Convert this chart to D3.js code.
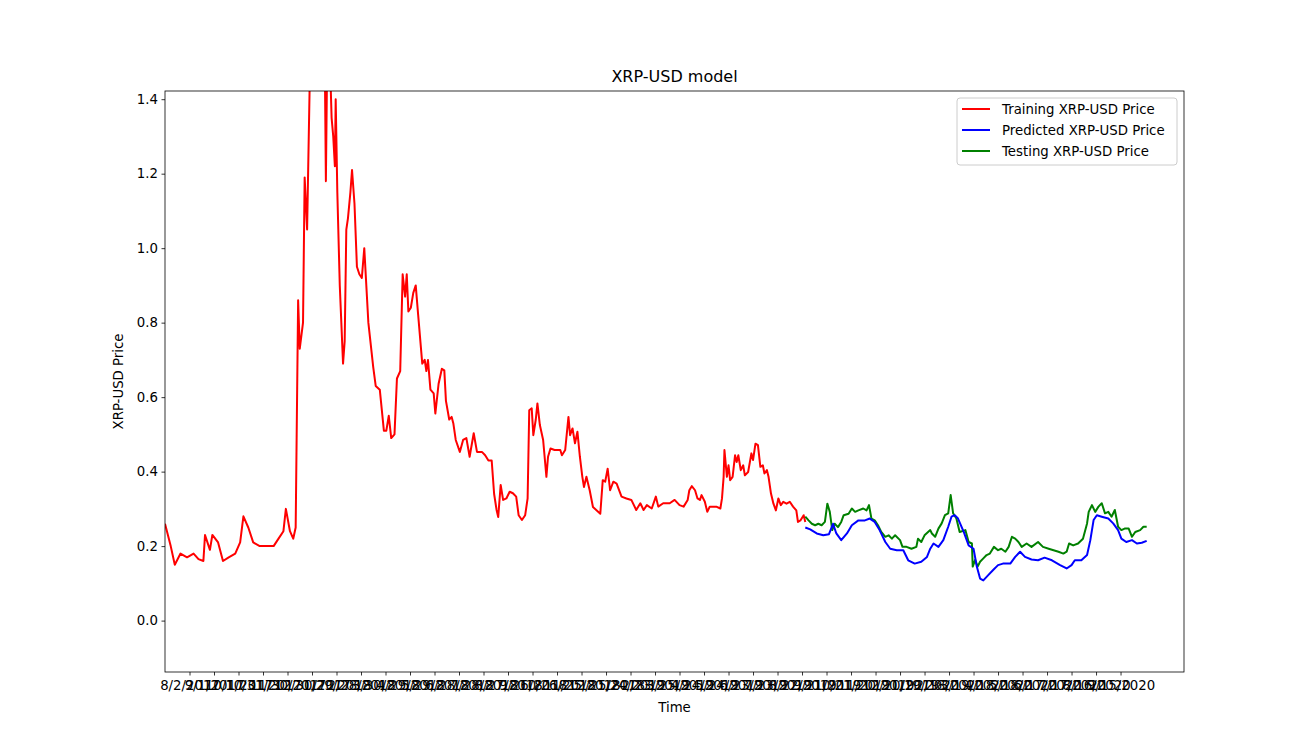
<!DOCTYPE html>
<html>
<head>
    <title>XRP-USD model</title>
    <script src="https://d3js.org/d3.v7.min.js"></script>
    <style>
        body { margin: 0; background: #fff; }
        text { font-family: "DejaVu Sans", sans-serif; }
    </style>
</head>
<body>
    <svg id="chart"></svg>

    <script>
        // x values are days since 8/2/2017
        const trainDays = [-30,-23,-18,-11,-3,5,11,17,19,25,28,35,41,48,56,62,66,72,78,86,94,103,109,115,118,123,127,130,133,135,139,141,144,147,150,152,156,160,164,167,169,172,174,176,178,179,181,184,188,190,192,194,197,199,202,205,208,211,214,219,225,228,233,238,241,244,247,251,254,258,261,264,266,268,271,274,277,280,
            285,288,290,292,295,299,301,305,309,312,314,318,321,323,326,331,335,339,343,348,352,358,362,366,370,373,376,378,381,384,388,392,396,400,403,407,411,414,416,419,421,424,426,429,433,437,439,442,447,454,456,460,464,466,469,472,475,478,481,483,486,490,494,503,506,509,512,515,519,523,529,535,541,547,552,556,560,566,571,574,580,588,594,600,
            605,610,612,615,619,622,625,627,631,634,637,641,645,650,652,654,655,658,660,662,665,668,670,672,675,678,680,684,688,690,693,696,699,702,704,707,709,712,715,718,721,724,727,731,735,739,743,745,748,752,754];
        const trainValues = [0.26,0.20,0.15,0.18,0.17,0.18,0.165,0.16,0.23,0.19,0.23,0.21,0.16,0.17,0.18,0.21,0.28,0.25,0.21,0.20,0.20,0.20,0.22,0.24,0.30,0.24,0.22,0.25,0.86,0.73,0.80,1.19,1.05,1.42,2.2,2.8,3.3,2.5,1.9,1.18,1.6,1.5,1.35,1.30,1.22,1.40,1.15,0.90,0.69,0.75,1.05,1.08,1.15,1.21,1.12,0.95,0.93,0.92,1.0,0.80,0.68,0.63,0.62,0.51,0.51,0.55,0.49,0.50,0.65,0.67,0.93,0.87,0.93,0.83,0.84,0.88,0.90,0.82,
            0.69,0.70,0.67,0.70,0.62,0.61,0.556,0.636,0.676,0.672,0.59,0.54,0.547,0.53,0.485,0.453,0.485,0.49,0.44,0.503,0.453,0.453,0.444,0.43,0.43,0.34,0.297,0.278,0.364,0.324,0.328,0.346,0.342,0.333,0.283,0.270,0.283,0.328,0.565,0.57,0.498,0.54,0.583,0.525,0.485,0.386,0.44,0.462,0.458,0.458,0.444,0.458,0.547,0.498,0.516,0.476,0.507,0.44,0.386,0.359,0.386,0.35,0.305,0.287,0.377,0.373,0.408,0.35,0.373,0.368,0.333,0.328,0.324,0.297,0.315,0.297,0.31,0.301,0.333,0.306,0.315,0.315,0.324,0.31,
            0.306,0.324,0.35,0.361,0.35,0.328,0.324,0.337,0.319,0.292,0.306,0.306,0.306,0.301,0.328,0.386,0.458,0.386,0.417,0.377,0.386,0.444,0.426,0.444,0.404,0.417,0.39,0.399,0.449,0.431,0.475,0.471,0.413,0.417,0.395,0.404,0.386,0.341,0.314,0.296,0.328,0.31,0.319,0.314,0.319,0.306,0.296,0.265,0.269,0.283,0.265];

        const testDays = [754,758,762,766,770,774,778,781,784,787,790,794,798,801,807,811,815,819,825,829,832,835,839,843,847,852,856,860,864,870,873,878,884,890,892,896,900,907,
            909,913,917,921,925,929,932,935,939,943,950,954,958,959,962,965,968,972,976,980,985,990,994,999,1003,1007,1011,1015,1019,1025,1031,1039,1045,1052,1058,1064,1070,1074,1077,1082,1088,1094,1099,1101,1105,1109,1113,1117,1121,1125,1129,1133,1137,1141,1145,1150,1154,1158,1164,1168,1172];
        const testValues = [0.279,0.269,0.26,0.256,0.26,0.256,0.265,0.314,0.292,0.243,0.26,0.251,0.265,0.283,0.287,0.301,0.292,0.296,0.301,0.296,0.31,0.274,0.269,0.256,0.238,0.225,0.229,0.22,0.229,0.216,0.198,0.198,0.193,0.198,0.22,0.211,0.229,0.243,
            0.234,0.225,0.247,0.261,0.283,0.288,0.337,0.288,0.274,0.238,0.243,0.211,0.207,0.145,0.163,0.145,0.158,0.167,0.176,0.18,0.198,0.189,0.193,0.185,0.198,0.225,0.22,0.211,0.198,0.207,0.198,0.211,0.198,0.193,0.189,0.185,0.18,0.185,0.207,0.202,0.207,0.22,0.261,0.292,0.31,0.292,0.306,0.315,0.288,0.292,0.279,0.297,0.252,0.243,0.247,0.247,0.225,0.238,0.243,0.252,0.252];

        const predDays = [754,760,768,776,783,788,792,798,805,811,819,827,833,839,845,852,858,866,874,880,888,896,903,907,
            911,917,923,929,933,937,941,948,954,960,964,968,972,978,984,990,996,1005,1011,1017,1023,1031,1039,1047,1056,1066,1074,1080,1084,1092,1099,1103,1107,1111,1117,1125,1131,1137,1141,1147,1154,1160,1166,1172];
        const predValues = [0.25,0.245,0.234,0.229,0.232,0.26,0.234,0.216,0.234,0.256,0.269,0.269,0.274,0.265,0.243,0.211,0.193,0.189,0.189,0.162,0.153,0.158,0.171,0.193,
            0.207,0.198,0.216,0.252,0.279,0.283,0.274,0.238,0.202,0.193,0.145,0.113,0.108,0.122,0.136,0.149,0.153,0.153,0.171,0.185,0.171,0.164,0.162,0.169,0.162,0.149,0.14,0.149,0.162,0.162,0.176,0.216,0.27,0.283,0.279,0.274,0.261,0.243,0.22,0.211,0.216,0.207,0.209,0.214];

        const tickDays = d3.range(0, 1141, 30);
        const tickLabels = ["8/2/2017","9/1/2017","10/1/2017","10/31/2017","11/30/2017","12/30/2017","1/29/2018","2/28/2018","3/30/2018","4/29/2018","5/29/2018","6/28/2018","7/28/2018","8/27/2018","9/26/2018","10/26/2018","11/25/2018","12/25/2018","1/24/2019","2/23/2019","3/25/2019","4/24/2019","5/24/2019","6/23/2019","7/23/2019","8/22/2019","9/21/2019","10/21/2019","11/20/2019","12/20/2019","1/19/2020","2/18/2020","3/19/2020","4/18/2020","5/18/2020","6/17/2020","7/17/2020","8/16/2020","9/15/2020","10/15/2020"];

        const series = [
            { name: "Training XRP-USD Price", color: "red", days: trainDays, values: trainValues },
            { name: "Predicted XRP-USD Price", color: "blue", days: predDays, values: predValues },
            { name: "Testing XRP-USD Price", color: "green", days: testDays, values: testValues }
        ];

        const W = 1316, H = 755;
        const margin = { top: 91, right: 132, bottom: 83, left: 165 };
        const width = W - margin.left - margin.right;
        const height = H - margin.top - margin.bottom;

        const root = d3.select("#chart").attr("width", W).attr("height", H);
        const svg = root.append("g").attr("transform", `translate(${margin.left},${margin.top})`);

        const x = d3.scaleLinear().domain([-30, 1217.7]).range([0, width]);
        const y = d3.scaleLinear().domain([-0.138, 1.422]).range([height, 0]);

        svg.append("clipPath").attr("id", "clip")
            .append("rect").attr("width", width).attr("height", height);

        const line = d3.line().x(d => x(d[0])).y(d => y(d[1]));

        [series[0], series[2], series[1]].forEach(s => {
            svg.append("path")
                .datum(s.days.map((d, i) => [d, s.values[i]]))
                .attr("clip-path", "url(#clip)")
                .attr("fill", "none")
                .attr("stroke", s.color)
                .attr("stroke-width", 2)
                .attr("stroke-linejoin", "round")
                .attr("d", line);
        });

        const xAxis = svg.append("g")
            .attr("transform", `translate(0,${height})`)
            .call(d3.axisBottom(x).tickValues(tickDays).tickFormat((d, i) => tickLabels[i]).tickSizeOuter(0).tickSize(3.5).tickPadding(5));
        const yAxis = svg.append("g")
            .call(d3.axisLeft(y).tickValues(d3.range(0, 1.41, 0.2)).tickFormat(d3.format(".1f")).tickSizeOuter(0).tickSize(3.5).tickPadding(3.5));
        [xAxis, yAxis].forEach(a => {
            a.select(".domain").remove();
            a.selectAll("text").attr("font-size", 13.3).attr("fill", "#000").attr("font-family", "DejaVu Sans");
            a.selectAll("line").attr("stroke", "#000").attr("stroke-width", 0.8);
        });

        svg.append("rect").attr("width", width).attr("height", height)
            .attr("fill", "none").attr("stroke", "#000").attr("stroke-width", 0.8);

        svg.append("text").attr("x", width / 2).attr("y", -9).attr("text-anchor", "middle")
            .attr("font-size", 16).text("XRP-USD model");
        svg.append("text").attr("x", width / 2).attr("y", height + 40).attr("text-anchor", "middle")
            .attr("font-size", 13.3).text("Time");
        svg.append("text").attr("transform", `translate(-42,${height / 2}) rotate(-90)`).attr("text-anchor", "middle")
            .attr("font-size", 13.3).text("XRP-USD Price");

        const lg = svg.append("g").attr("transform", `translate(${width - 227},7)`);
        lg.append("rect").attr("width", 220).attr("height", 67).attr("rx", 3)
            .attr("fill", "#fff").attr("fill-opacity", 0.8).attr("stroke", "#ccc");
        series.forEach((s, i) => {
            const yy = 11 + i * 21;
            lg.append("line").attr("x1", 5).attr("x2", 33).attr("y1", yy).attr("y2", yy)
                .attr("stroke", s.color).attr("stroke-width", 2);
            lg.append("text").attr("x", 45).attr("y", yy + 4.5).attr("font-size", 13.3).text(s.name);
        });
    </script>
</body>
</html>
